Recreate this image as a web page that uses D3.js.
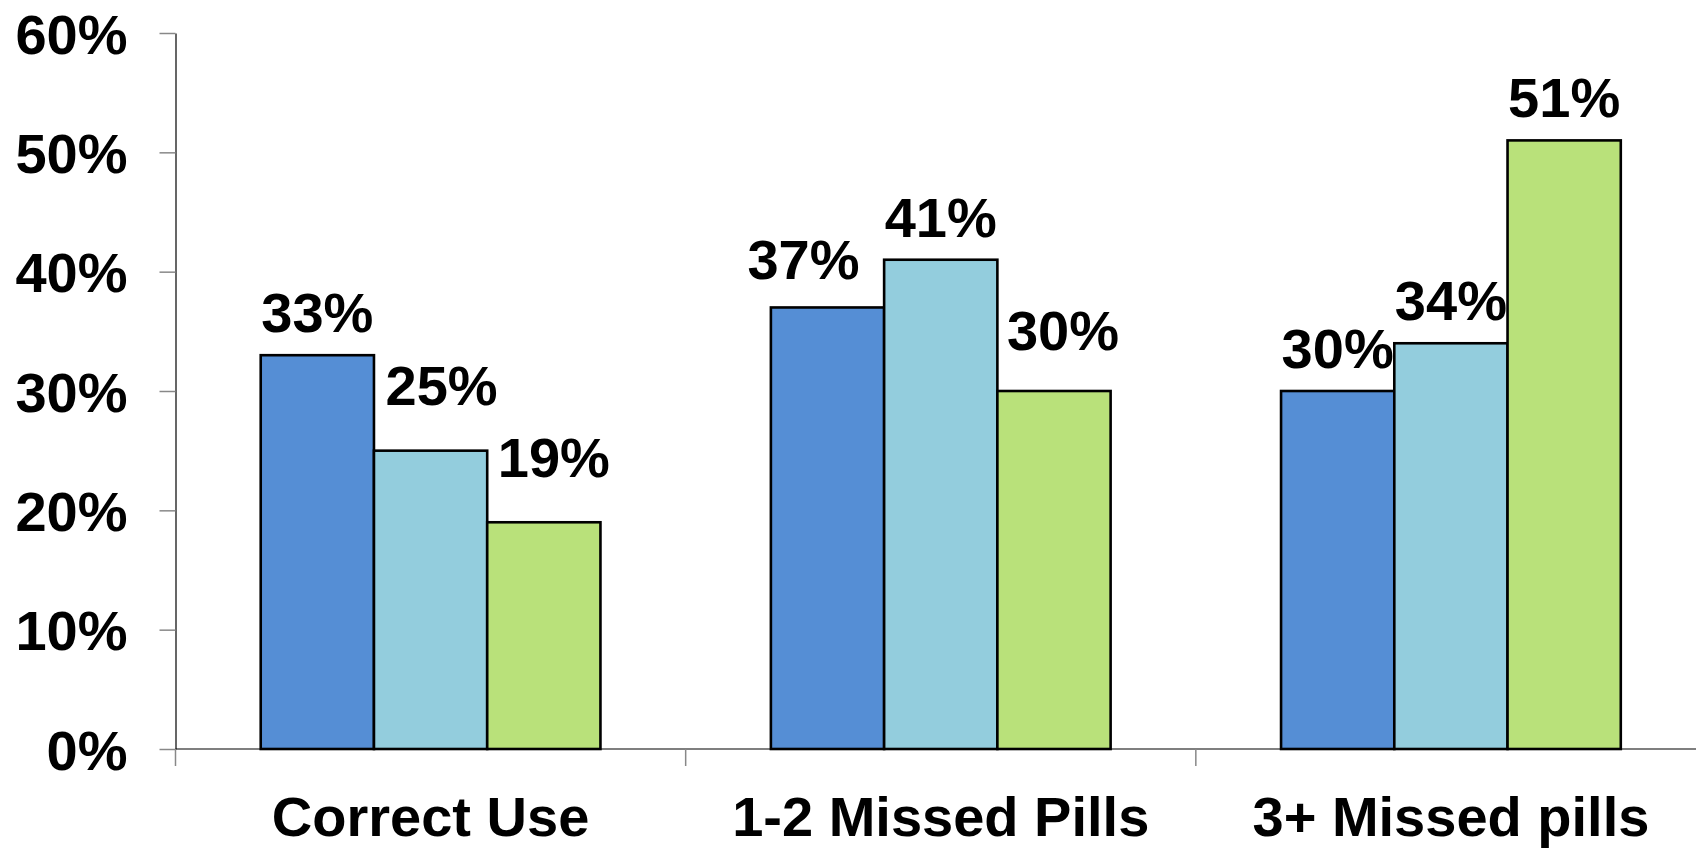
<!DOCTYPE html>
<html>
<head>
<meta charset="utf-8">
<script src="https://cdn.jsdelivr.net/npm/d3@7"></script>
<style>
  html, body { margin: 0; padding: 0; background: #fff; }
  svg { display: block; font-family: "Liberation Sans", Arial, sans-serif; font-weight: bold; }
</style>
</head>
<body>
<div class="chart"></div>
<script>
// Data
const categories = ['Correct Use', '1-2 Missed Pills', '3+ Missed pills'];
const seriesNames = ['Series 1', 'Series 2', 'Series 3'];
const series1 = [33, 37, 30];
const series2 = [25, 41, 34];
const series3 = [19, 30, 51];
const yTicks = [0, 10, 20, 30, 40, 50, 60];

// Label nudges (px) copied from the hand-placed labels of the original
const labelDx = [[0, 11, 10], [-24, 0, 9], [0, 0, 0]];
const labelDy = [[-23, -46, -45], [-28, -23, -41], [-23, -23, -23]];

const colors = ['#558ed5', '#93cddd', '#b9e17a'];

const outerWidth = 1696;
const outerHeight = 848;
const margin = { top: 33, right: -10, bottom: 99, left: 175.5 };
const width = outerWidth - margin.left - margin.right;
const height = outerHeight - margin.top - margin.bottom;

const values = [series1, series2, series3];
const rows = categories.map((c, i) => ({
    category: c,
    bars: seriesNames.map((s, j) => ({ series: s, j: j, i: i, value: values[j][i] }))
}));

const svg = d3.select('.chart').append('svg')
    .attr('width', outerWidth)
    .attr('height', outerHeight);

const g = svg.append('g')
    .attr('transform', `translate(${margin.left}, ${margin.top})`);

// Scales
const x0 = d3.scaleBand().domain(categories).range([0, width]).padding(0);
const x1 = d3.scaleBand().domain(seriesNames).range([0, x0.bandwidth()])
    .paddingInner(0).paddingOuter(0.7525);
const y = d3.scaleLinear().domain([0, 60]).range([height, 0]);

// Y axis
const yAxis = d3.axisLeft(y)
    .tickValues(yTicks)
    .tickSize(16)
    .tickSizeOuter(0)
    .tickPadding(32)
    .tickFormat(d => d + '%');

const gy = g.append('g').call(yAxis);
gy.select('.domain').attr('stroke', '#000').attr('stroke-width', 1.2);
gy.selectAll('.tick line').attr('stroke', '#888').attr('stroke-width', 1.5);
gy.selectAll('.tick text')
    .attr('fill', '#000')
    .style('font-size', '56px')
    .style('font-weight', 'bold')
    .attr('dy', '0.36em');

// Bars
const groups = g.selectAll('.group')
    .data(rows)
    .enter().append('g')
    .attr('class', 'group')
    .attr('transform', d => `translate(${x0(d.category)}, 0)`);

groups.selectAll('rect')
    .data(d => d.bars)
    .enter().append('rect')
    .attr('x', d => x1(d.series))
    .attr('y', d => y(d.value))
    .attr('width', x1.bandwidth())
    .attr('height', d => y(0) - y(d.value))
    .attr('fill', d => colors[d.j])
    .attr('stroke', '#000')
    .attr('stroke-width', 2.6);

// X axis line and boundary ticks
g.append('line')
    .attr('x1', 0).attr('x2', width)
    .attr('y1', y(0)).attr('y2', y(0))
    .attr('stroke', '#000')
    .attr('stroke-width', 1.2);

g.selectAll('.xtick')
    .data(categories)
    .enter().append('line')
    .attr('class', 'xtick')
    .attr('x1', d => x0(d)).attr('x2', d => x0(d))
    .attr('y1', y(0)).attr('y2', y(0) + 17)
    .attr('stroke', '#888')
    .attr('stroke-width', 1.5);

// Category labels
const xAxis = d3.axisBottom(x0).tickSize(0).tickPadding(0);
const gx = g.append('g')
    .attr('transform', `translate(0, ${height})`)
    .call(xAxis);
gx.select('.domain').remove();
gx.selectAll('.tick text')
    .attr('fill', '#000')
    .attr('y', 87)
    .attr('dy', 0)
    .style('font-size', '56px')
    .style('font-weight', 'bold');

// Value labels
groups.selectAll('.vlabel')
    .data(d => d.bars)
    .enter().append('text')
    .attr('class', 'vlabel')
    .attr('x', d => x1(d.series) + x1.bandwidth() / 2 + labelDx[d.i][d.j])
    .attr('y', d => y(d.value) + labelDy[d.i][d.j])
    .attr('text-anchor', 'middle')
    .style('font-size', '56px')
    .text(d => d.value + '%');
</script>
</body>
</html>
